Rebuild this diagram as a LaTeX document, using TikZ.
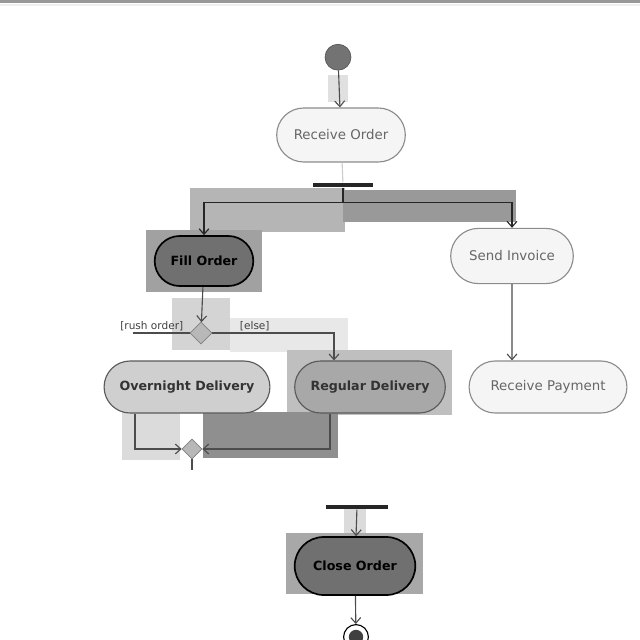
\documentclass[tikz,border=0pt]{standalone}
\usepackage{fontspec}
\setmainfont{DejaVu Sans}
\usepackage{tikz}
\usetikzlibrary{positioning,shapes.geometric,shapes.misc,arrows.meta}

\tikzstyle{arrow} = [line width=0.8pt, draw=black!70, ->, >={Straight Barb[length=4pt,width=7pt]}]
\tikzstyle{flow} = [line width=0.8pt, draw=black!70]
\tikzstyle{actnode} = [
    rounded rectangle,         % Shape
    draw=black!45,             % Border color
    line width=0.8pt,          % Border width
    minimum height=1.3cm,      % Height
    text centered,             % Centered text
    fill=black!4,              % Light background
    text=black!60,             % Gray text
    font=\fontsize{9.5}{11}\selectfont
]
\tikzstyle{midact} = [actnode, draw=black!65, fill=black!19, text=black!80, font=\fontsize{9}{11}\selectfont\bfseries]
\tikzstyle{darkact} = [actnode, draw=black, line width=1.2pt, fill=black!56, text=black, font=\fontsize{9}{11}\selectfont\bfseries]
\tikzstyle{bar} = [rectangle, fill=black!85, minimum width=1.5cm, minimum height=0.12cm, inner sep=0pt]
\tikzstyle{choice} = [diamond, draw=black!50, fill=black!28, minimum size=0.55cm, inner sep=0pt]
\tikzstyle{guard} = [font=\fontsize{7.5}{9}\selectfont, text=black!75, inner sep=1pt]
\tikzstyle{patch} = [draw=none]

\begin{document}
\begin{tikzpicture}

		\useasboundingbox (0,0) rectangle (16,-16);

		% Frame line on top
		\fill[black!40] (0,0) rectangle (16,-0.07);
		\fill[black!6] (0,-0.1) rectangle (16,-0.14);

		% Gray patches
		\fill[patch, black!12] (8.2,-1.88) rectangle (8.7,-2.55);
		\fill[patch, black!29] (4.75,-4.7) rectangle (8.625,-5.8);
		\fill[patch, black!40] (8.575,-4.75) rectangle (12.9,-5.55);
		\fill[patch, black!37] (3.65,-5.75) rectangle (6.55,-7.3);
		\fill[patch, black!17] (4.3,-7.45) rectangle (5.75,-8.75);
		\fill[patch, black!9] (5.75,-7.95) rectangle (8.7,-8.8);
		\fill[patch, black!25] (7.18,-8.75) rectangle (11.3,-10.38);
		\fill[patch, black!14] (3.05,-10.3) rectangle (4.5,-11.5);
		\fill[patch, black!44] (5.08,-10.3) rectangle (8.45,-11.45);
		\fill[patch, black!14] (8.6,-12.7) rectangle (9.15,-13.4);
		\fill[patch, black!34] (7.15,-13.32) rectangle (10.58,-14.85);

		% Start and Receive Order
		\node[circle, draw=black!70, fill=black!55, minimum size=0.65cm] (start) at (8.45,-1.43) {};
		\node[actnode, minimum width=3.45cm, minimum height=1.35cm] (receive) at (8.525,-3.375) {Receive Order};

		% Fork
		\node[bar] (fork) at (8.575,-4.625) {};

		% Left branch
		\node[darkact, minimum width=2.7cm, minimum height=1.25cm] (fill) at (5.1,-6.525) {Fill Order};
		\node[choice] (decide) at (5.025,-8.325) {};
		\coordinate (rush) at (3.325,-8.325);
		\node[midact, minimum width=4.38cm] (overnight) at (4.675,-9.675) {Overnight Delivery};
		\node[midact, fill=black!34, minimum width=4cm] (regular) at (9.25,-9.675) {Regular Delivery};
		\node[choice, minimum size=0.5cm] (merge) at (4.8,-11.225) {};
		\coordinate (mergeout) at (4.8,-11.75);

		% Right branch
		\node[actnode, minimum width=3.3cm, minimum height=1.38cm] (invoice) at (12.8,-6.4) {Send Invoice};
		\node[actnode, minimum width=4.18cm] (payment) at (13.7,-9.675) {Receive Payment};

		% Join and Close Order
		\node[bar, minimum width=1.55cm] (join) at (8.925,-12.675) {};
		\node[darkact, minimum width=3.25cm, minimum height=1.45cm] (close) at (8.875,-14.15) {Close Order};
		\node[circle, draw=black, line width=0.8pt, fill=white, minimum size=0.62cm, inner sep=0pt] (stop) at (8.9,-15.925) {};
		\node[circle, fill=black!75, minimum size=0.36cm, inner sep=0pt] at (stop) {};

		% Guards
		\node[guard, above left=0.02cm and 0.12cm of decide.west] (rushlabel) {[rush order]};
		\node[guard, above right=0.02cm and 0.65cm of decide.east] (elselabel) {[else]};

		% Arrows
		\draw[arrow] (start) -- (receive);
		\draw[flow, draw=black!20] (receive) -- (fork);
		\draw[arrow, draw=black!85] (fork.south) -- ++(0,-0.37) -| (fill);
		\draw[arrow, draw=black!85] (fork.south) -- ++(0,-0.37) -| (invoice);

		\draw[arrow] (fill) -- (decide);
		\draw[flow] (decide.west) -- (rush);
		\draw[arrow] (decide.east) -| ([xshift=-0.9cm]regular.north);
		\draw[arrow] ([xshift=-1.3cm]overnight.south) |- (merge.west);
		\draw[arrow] ([xshift=-1cm]regular.south) |- (merge.east);
		\draw[flow] (merge.south) -- (mergeout);

		\draw[arrow] (invoice) -- (invoice |- payment.north);

		\draw[arrow] (join) -- (close);
		\draw[arrow] (close) -- (stop);
	\end{tikzpicture}
\end{document}
